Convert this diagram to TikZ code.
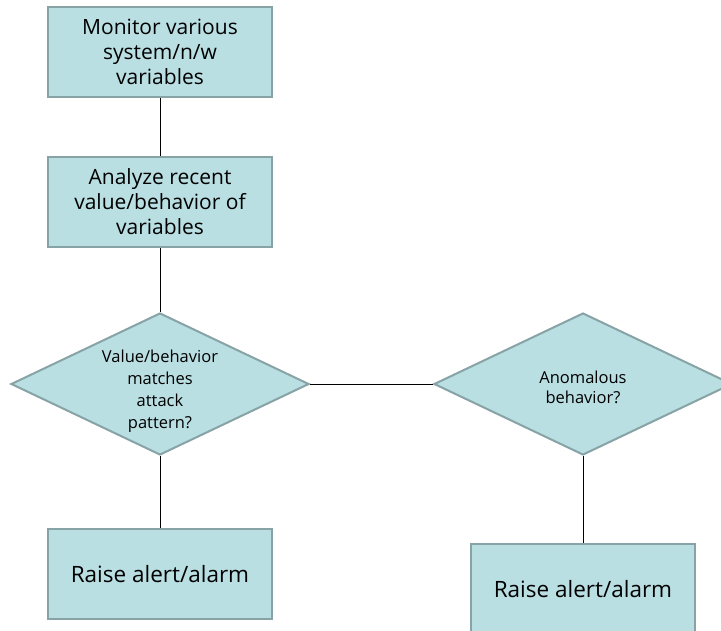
\documentclass[tikz,border=0pt]{standalone}
\usepackage{fontspec}
\setmainfont{Open Sans}
\usetikzlibrary{shapes.geometric}
\definecolor{boxfill}{HTML}{B9DFE3}
\definecolor{boxline}{HTML}{87A3A6}
\tikzset{
  procbox/.style={draw=boxline, line width=2pt, fill=boxfill, minimum width=224pt, minimum height=90pt, inner sep=0pt, align=center, font=\fontsize{21}{25}\selectfont},
  decbox/.style={draw=boxline, line width=2pt, fill=boxfill, diamond, minimum width=298pt, minimum height=142pt, inner sep=0pt},
  dectext/.style={inner sep=0pt, align=center},
  link/.style={draw=black, line width=1pt}
}
\begin{document}
\begin{tikzpicture}[x=1pt,y=-1pt]
\useasboundingbox (0,0) rectangle (721,630);
\clip (0,0) rectangle (721,630);
\fill[white] (0,0) rectangle (721,630);
\node[procbox] (mon) at (160,52) {Monitor various\\system/n/w\\variables};
\node[procbox] (ana) at (160,202) {Analyze recent\\value/behavior of\\variables};
\node[decbox] (d1) at (160,384) {};
\node[decbox] (d2) at (583,384) {};
\node[dectext, font=\fontsize{16.5}{22}\selectfont] (t1) at (160,391) {Value/behavior\\matches\\attack\\pattern?};
\node[dectext, font=\fontsize{16.5}{20}\selectfont] (t2) at (583,387) {Anomalous\\behavior?};
\node[procbox, font=\fontsize{22.5}{25}\selectfont] (r1) at (160,574) {Raise alert/alarm};
\node[procbox, font=\fontsize{22.5}{25}\selectfont] (r2) at (583,589) {Raise alert/alarm};
\draw[link] (mon.south) -- (ana.north);
\draw[link] (ana.south) -- (d1.north);
\draw[link] (d1.east) -- (d2.west);
\draw[link] (d1.south) -- (r1.north);
\draw[link] (d2.south) -- (r2.north);
\end{tikzpicture}
\end{document}
